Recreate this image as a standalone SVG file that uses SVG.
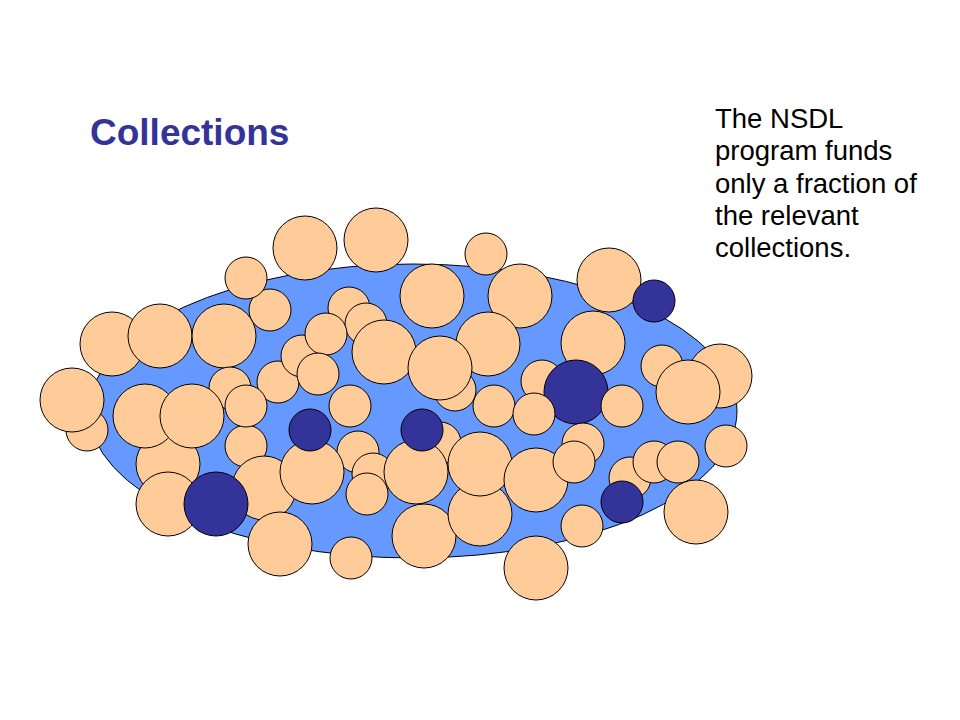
<svg xmlns="http://www.w3.org/2000/svg" width="960" height="720" viewBox="0 0 960 720">
<style>
.p{fill:#FFCC99;stroke:#000;stroke-width:1}
.d{fill:#333399;stroke:#000;stroke-width:1}
.t{font-family:"Liberation Sans",Arial,sans-serif}
</style>
<rect width="960" height="720" fill="#fff"/>
<text class="t" x="90" y="145" font-size="37" font-weight="bold" fill="#333399">Collections</text>
<g class="t" font-size="27.5" fill="#000">
<text x="715" y="128">The NSDL</text>
<text x="715" y="160">program funds</text>
<text x="715" y="193">only a fraction of</text>
<text x="715" y="225">the relevant</text>
<text x="715" y="257">collections.</text>
</g>
<ellipse id="field" cx="413" cy="411" rx="324" ry="147" fill="#6699FF" stroke="#000" stroke-width="1"/>
<g id="collections">
<circle class="p" cx="270" cy="310" r="21"/>
<circle class="p" cx="246" cy="278" r="21"/>
<circle class="p" cx="305" cy="248" r="32"/>
<circle class="p" cx="376" cy="240" r="32"/>
<circle class="p" cx="486" cy="254" r="21"/>
<circle class="p" cx="432" cy="296" r="32"/>
<circle class="p" cx="520" cy="296" r="32"/>
<circle class="p" cx="488" cy="344" r="32"/>
<circle class="p" cx="609" cy="280" r="32"/>
<circle class="d" cx="654" cy="301" r="21"/>
<circle class="p" cx="112" cy="344" r="32"/>
<circle class="p" cx="160" cy="336" r="32"/>
<circle class="p" cx="224" cy="336" r="32"/>
<circle class="p" cx="349" cy="308" r="21"/>
<circle class="p" cx="366" cy="324" r="21"/>
<circle class="p" cx="278" cy="382" r="21"/>
<circle class="p" cx="302" cy="356" r="21"/>
<circle class="p" cx="326" cy="334" r="21"/>
<circle class="p" cx="318" cy="374" r="21"/>
<circle class="p" cx="384" cy="352" r="32"/>
<circle class="p" cx="455" cy="390" r="21"/>
<circle class="p" cx="440" cy="368" r="32"/>
<circle class="p" cx="662" cy="366" r="21"/>
<circle class="p" cx="720" cy="376" r="32"/>
<circle class="p" cx="688" cy="392" r="32"/>
<circle class="p" cx="593" cy="343" r="32"/>
<circle class="p" cx="542" cy="381" r="21"/>
<circle class="d" cx="576" cy="392" r="32"/>
<circle class="p" cx="87" cy="430" r="21"/>
<circle class="p" cx="72" cy="400" r="32"/>
<circle class="p" cx="168" cy="464" r="32"/>
<circle class="p" cx="145" cy="416" r="32"/>
<circle class="p" cx="230" cy="388" r="21"/>
<circle class="p" cx="192" cy="416" r="32"/>
<circle class="p" cx="168" cy="504" r="32"/>
<circle class="p" cx="246" cy="446" r="21"/>
<circle class="p" cx="246" cy="406" r="21"/>
<circle class="p" cx="264" cy="488" r="32"/>
<circle class="p" cx="280" cy="544" r="32"/>
<circle class="d" cx="216" cy="504" r="32"/>
<circle class="p" cx="358" cy="452" r="21"/>
<circle class="p" cx="312" cy="472" r="32"/>
<circle class="d" cx="310" cy="430" r="21"/>
<circle class="p" cx="350" cy="406" r="21"/>
<circle class="p" cx="373" cy="474" r="21"/>
<circle class="p" cx="367" cy="494" r="21"/>
<circle class="p" cx="440" cy="443" r="21"/>
<circle class="p" cx="416" cy="472" r="32"/>
<circle class="d" cx="422" cy="430" r="21"/>
<circle class="p" cx="351" cy="558" r="21"/>
<circle class="p" cx="424" cy="536" r="32"/>
<circle class="p" cx="480" cy="514" r="32"/>
<circle class="p" cx="480" cy="464" r="32"/>
<circle class="p" cx="536" cy="480" r="32"/>
<circle class="p" cx="583" cy="444" r="21"/>
<circle class="p" cx="574" cy="462" r="21"/>
<circle class="p" cx="494" cy="406" r="21"/>
<circle class="p" cx="534" cy="414" r="21"/>
<circle class="p" cx="622" cy="406" r="21"/>
<circle class="p" cx="630" cy="478" r="21"/>
<circle class="p" cx="654" cy="462" r="21"/>
<circle class="p" cx="678" cy="462" r="21"/>
<circle class="d" cx="622" cy="502" r="21"/>
<circle class="p" cx="726" cy="446" r="21"/>
<circle class="p" cx="696" cy="512" r="32"/>
<circle class="p" cx="582" cy="526" r="21"/>
<circle class="p" cx="536" cy="568" r="32"/>
</g>
</svg>
